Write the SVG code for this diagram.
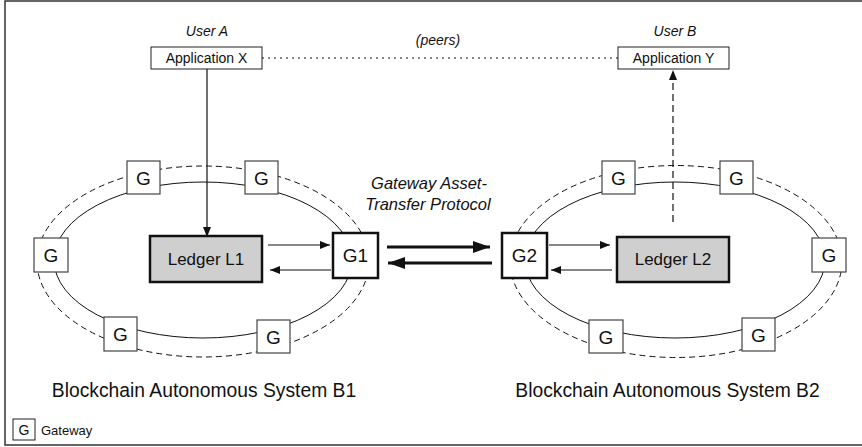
<svg xmlns="http://www.w3.org/2000/svg" width="862" height="447" viewBox="0 0 862 447">
<defs>
<style>
text{font-family:"Liberation Sans",Arial,sans-serif;fill:#111}
.it{font-style:italic}
.box{fill:#fff;stroke:#222;stroke-width:1}
.gw{fill:#fff;stroke:#444;stroke-width:1.2}
.gwb{fill:#fff;stroke:#111;stroke-width:2.5}
.led{fill:#cfcfcf;stroke:#111;stroke-width:2.5}
.ring{fill:none;stroke:#111;stroke-width:1}
.ringd{fill:none;stroke:#111;stroke-width:1;stroke-dasharray:6 4}
.ln{stroke:#111;stroke-width:1.2;fill:none}
.thk{stroke:#111;stroke-width:3;fill:none}
</style>
<marker id="ah" markerUnits="userSpaceOnUse" markerWidth="10" markerHeight="8" refX="10" refY="4" orient="auto">
<path d="M0,0 L10,4 L0,8 z" fill="#111"/>
</marker>
<marker id="ahb" markerUnits="userSpaceOnUse" markerWidth="17" markerHeight="12" refX="17" refY="6" orient="auto">
<path d="M0,0 L17,6 L0,12 z" fill="#111"/>
</marker>
</defs>
<rect x="5" y="1" width="870" height="444" fill="#fff" stroke="#333" stroke-width="1.5"/>

<g id="rings">
<ellipse class="ringd" cx="203" cy="261.5" rx="166" ry="95.5"/>
<ellipse class="ring" cx="203" cy="260" rx="149" ry="78"/>
<ellipse class="ringd" cx="676" cy="261.5" rx="166" ry="96"/>
<ellipse class="ring" cx="675" cy="260" rx="150" ry="78"/>
</g>

<g id="connectors">
<line class="ln" x1="262" y1="58" x2="618" y2="58" stroke-dasharray="2 4"/>
<line class="ln" x1="207" y1="69" x2="207" y2="237" marker-end="url(#ah)"/>
<line class="ln" x1="673" y1="222" x2="673" y2="70" stroke-dasharray="7 4" marker-end="url(#ah)"/>
<line class="ln" x1="268" y1="245" x2="330" y2="245" marker-end="url(#ah)"/>
<line class="ln" x1="331" y1="270" x2="270" y2="270" marker-end="url(#ah)"/>
<line class="ln" x1="549" y1="245" x2="610" y2="245" marker-end="url(#ah)"/>
<line class="ln" x1="612" y1="270" x2="551" y2="270" marker-end="url(#ah)"/>
<line class="thk" x1="387" y1="247" x2="490" y2="247" marker-end="url(#ahb)"/>
<line class="thk" x1="492" y1="263" x2="388" y2="263" marker-end="url(#ahb)"/>
</g>

<g id="userA">
<text class="it" x="207" y="36" font-size="14" text-anchor="middle">User A</text>
<rect class="box" x="151" y="47" width="111" height="22"/>
<text x="206.5" y="63" font-size="14" text-anchor="middle">Application X</text>
</g>
<g id="userB">
<text class="it" x="675" y="36" font-size="14" text-anchor="middle">User B</text>
<rect class="box" x="618" y="47" width="111" height="22"/>
<text x="673.5" y="63" font-size="14" text-anchor="middle">Application Y</text>
</g>
<text class="it" x="438" y="45" font-size="14" text-anchor="middle">(peers)</text>

<g id="ledgerL1">
<rect class="led" x="150" y="236" width="112" height="46"/>
<text x="206" y="265" font-size="17" text-anchor="middle">Ledger L1</text>
</g>
<g id="ledgerL2">
<rect class="led" x="617" y="237" width="112" height="45"/>
<text x="673" y="265" font-size="17" text-anchor="middle">Ledger L2</text>
</g>

<g id="G1">
<rect class="gwb" x="333" y="233" width="45" height="45"/>
<text x="355.5" y="262" font-size="19" text-anchor="middle">G1</text>
</g>
<g id="G2">
<rect class="gwb" x="502" y="233" width="45" height="45"/>
<text x="524.5" y="262" font-size="19" text-anchor="middle">G2</text>
</g>

<g id="gw-l1"><rect class="gw" x="127" y="161" width="33" height="33"/><text x="143.5" y="184.5" font-size="19" text-anchor="middle">G</text></g>
<g id="gw-l2"><rect class="gw" x="245" y="161" width="33" height="33"/><text x="261.5" y="184.5" font-size="19" text-anchor="middle">G</text></g>
<g id="gw-l3"><rect class="gw" x="34" y="238" width="34" height="34"/><text x="51" y="262" font-size="19" text-anchor="middle">G</text></g>
<g id="gw-l4"><rect class="gw" x="104" y="317" width="33" height="34"/><text x="120.5" y="341" font-size="19" text-anchor="middle">G</text></g>
<g id="gw-l5"><rect class="gw" x="257" y="320" width="33" height="33"/><text x="273.5" y="343.5" font-size="19" text-anchor="middle">G</text></g>

<g id="gw-r1"><rect class="gw" x="602" y="161" width="33" height="33"/><text x="618.5" y="184.5" font-size="19" text-anchor="middle">G</text></g>
<g id="gw-r2"><rect class="gw" x="720" y="161" width="33" height="33"/><text x="736.5" y="184.5" font-size="19" text-anchor="middle">G</text></g>
<g id="gw-r3"><rect class="gw" x="812" y="238" width="34" height="34"/><text x="829" y="262" font-size="19" text-anchor="middle">G</text></g>
<g id="gw-r4"><rect class="gw" x="589" y="320" width="34" height="33"/><text x="606" y="343.5" font-size="19" text-anchor="middle">G</text></g>
<g id="gw-r5"><rect class="gw" x="742" y="318" width="33" height="33"/><text x="758.5" y="341.5" font-size="19" text-anchor="middle">G</text></g>

<g id="gatp-label">
<text class="it" x="429" y="189" font-size="16.5" text-anchor="middle">Gateway Asset-</text>
<text class="it" x="428" y="210" font-size="16.5" text-anchor="middle">Transfer Protocol</text>
</g>

<text x="204" y="397" font-size="19.3" text-anchor="middle">Blockchain Autonomous System B1</text>
<text x="667.5" y="397" font-size="19.3" text-anchor="middle">Blockchain Autonomous System B2</text>

<g id="legend">
<rect class="box" x="13" y="419" width="22" height="21"/>
<text x="24" y="435" font-size="14" text-anchor="middle">G</text>
<text x="41" y="435" font-size="13">Gateway</text>
</g>
</svg>
